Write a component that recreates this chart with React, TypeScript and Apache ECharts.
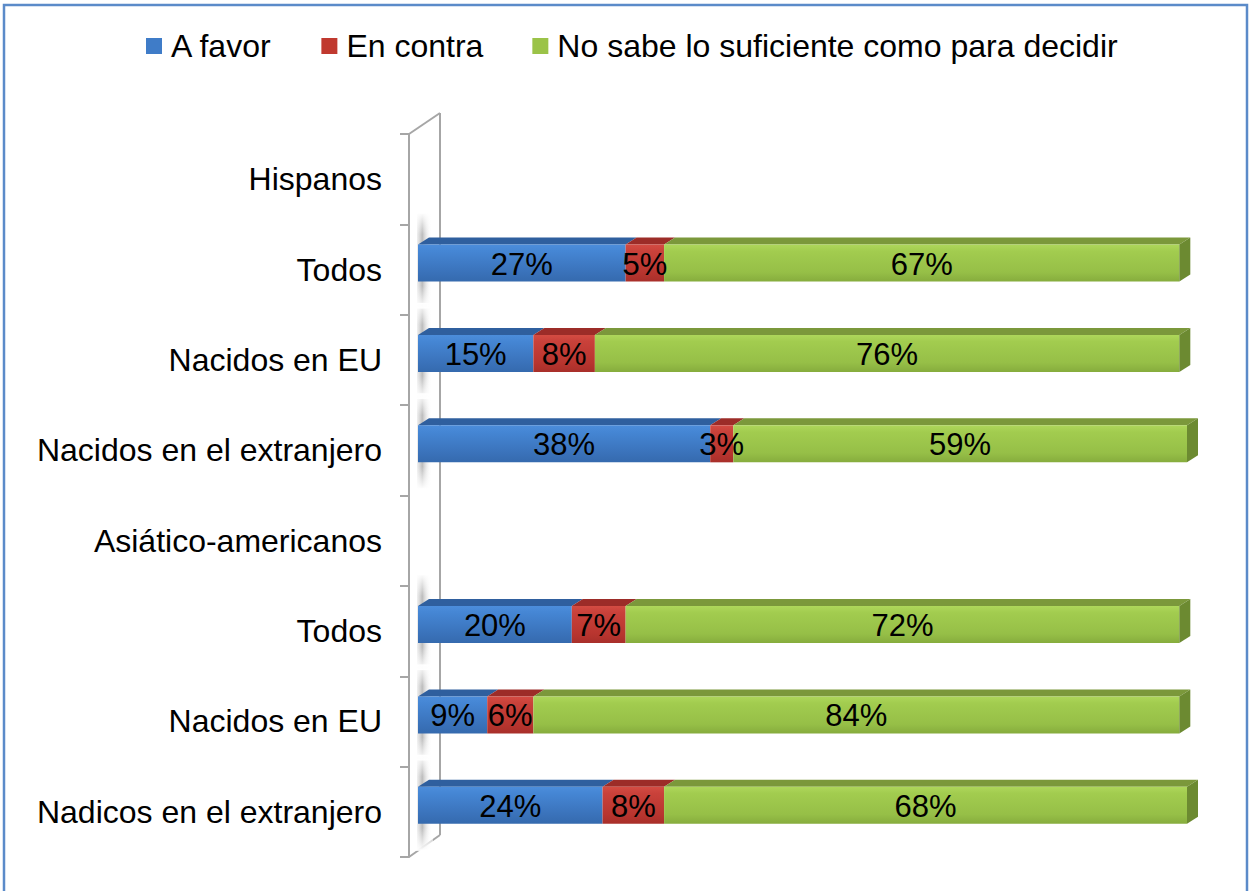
import React, { useEffect, useRef } from 'react';
import * as echarts from 'echarts';

const categories = [
  'Hispanos',
  'Todos',
  'Nacidos en EU',
  'Nacidos en el extranjero',
  'Asiático-americanos',
  'Todos',
  'Nacidos en EU',
  'Nadicos en el extranjero',
];
const seriesNames = ['A favor', 'En contra', 'No sabe lo suficiente como para decidir'];
const aFavor = [null, 27, 15, 38, null, 20, 9, 24];
const enContra = [null, 5, 8, 3, null, 7, 6, 8];
const noSabe = [null, 67, 76, 59, null, 72, 84, 68];

const FONT = 'Arial, "Liberation Sans", sans-serif';

const palettes = [
  { main: '#3F7CC8', stops: ['#4C8DDB', '#4586D4', '#3A72BA', '#356AAE'], topFace: '#2F5F9E', side: '#2A548C' },
  { main: '#C0392F', stops: ['#D44C43', '#C9413A', '#B8352F', '#A82F2A'], topFace: '#9C2C28', side: '#8A2622' },
  { main: '#9BC348', stops: ['#AED75B', '#A2CC4F', '#96BF47', '#86AC3D'], topFace: '#7B983B', side: '#6C8A31' },
];

function buildData(values: (number | null)[], offsets: (number | null)[][]) {
  const out: any[] = [];
  values.forEach((v, i) => {
    if (v == null) return;
    let start = 0;
    offsets.forEach((arr) => {
      start += (arr[i] as number) || 0;
    });
    out.push([i, start, start + v, v]);
  });
  return out;
}

function makeRender(si: number, isFirst: boolean, isLast: boolean) {
  const pal = palettes[si];
  return (params: any, api: any) => {
    const cat = api.value(0);
    const s = api.value(1);
    const e = api.value(2);
    const v = api.value(3);
    const p0 = api.coord([s, cat]);
    const p1 = api.coord([e, cat]);
    const band = api.size([0, 1])[1];
    const h = band * 0.41;
    const yc = p0[1] - band * 0.072;
    const top = yc - h / 2;
    const bottom = yc + h / 2;
    const dx = 11;
    const dy = 7;
    const x0 = p0[0];
    const x1 = p1[0];
    const children: any[] = [];
    if (isFirst) {
      children.push({
        type: 'rect',
        shape: { x: x0 - 1, y: top - dy - 24, width: 15, height: h + dy + 50 },
        style: {
          fill: new echarts.graphic.LinearGradient(0, 0, 1, 0, [
            { offset: 0, color: 'rgba(150,150,150,0.15)' },
            { offset: 0.35, color: 'rgba(120,120,120,0.5)' },
            { offset: 1, color: 'rgba(255,255,255,0)' },
          ]),
        },
        z2: -5,
      });
      children.push({
        type: 'rect',
        shape: { x: x0 - 2, y: top - dy - 25, width: 17, height: 22 },
        style: {
          fill: new echarts.graphic.LinearGradient(0, 0, 0, 1, [
            { offset: 0, color: 'rgba(255,255,255,1)' },
            { offset: 1, color: 'rgba(255,255,255,0)' },
          ]),
        },
        z2: -4,
      });
      children.push({
        type: 'rect',
        shape: { x: x0 - 2, y: bottom + 4, width: 17, height: 23 },
        style: {
          fill: new echarts.graphic.LinearGradient(0, 0, 0, 1, [
            { offset: 0, color: 'rgba(255,255,255,0)' },
            { offset: 1, color: 'rgba(255,255,255,1)' },
          ]),
        },
        z2: -4,
      });
    }
    children.push({
      type: 'polygon',
      shape: {
        points: [
          [x0, top],
          [x1, top],
          [x1 + dx, top - dy],
          [x0 + dx, top - dy],
        ],
      },
      style: { fill: pal.topFace },
      z2: 1,
    });
    children.push({
      type: 'rect',
      shape: { x: x0, y: top, width: x1 - x0, height: h },
      style: {
        fill: new echarts.graphic.LinearGradient(0, 0, 0, 1, [
          { offset: 0, color: pal.stops[0] },
          { offset: 0.18, color: pal.stops[1] },
          { offset: 0.75, color: pal.stops[2] },
          { offset: 1, color: pal.stops[3] },
        ]),
      },
      z2: 2,
    });
    if (isLast) {
      children.push({
        type: 'polygon',
        shape: {
          points: [
            [x1, top],
            [x1 + dx, top - dy],
            [x1 + dx, bottom - dy],
            [x1, bottom],
          ],
        },
        style: { fill: pal.side },
        z2: 2,
      });
    }
    children.push({
      type: 'text',
      style: {
        text: v + '%',
        x: (x0 + x1) / 2,
        y: yc + 1,
        align: 'center',
        verticalAlign: 'middle',
        font: '31px ' + FONT,
        fill: '#000',
      },
      z2: 100,
    });
    return { type: 'group', children };
  };
}

export default function App() {
  const ref = useRef<HTMLDivElement>(null);
  useEffect(() => {
    if (!ref.current) return;
    const chart = echarts.init(ref.current, undefined, { renderer: 'svg' });
    const dataFavor = buildData(aFavor, []);
    const dataContra = buildData(enContra, [aFavor]);
    const dataNoSabe = buildData(noSabe, [aFavor, enContra]);
    const allData = [dataFavor, dataContra, dataNoSabe];
    const wallColor = '#A6A6A6';
    const option: any = {
      animation: false,
      backgroundColor: '#fff',
      textStyle: { fontFamily: FONT },
      legend: {
        left: 146,
        top: 30,
        padding: 0,
        itemWidth: 16,
        itemHeight: 16,
        itemGap: 49,
        icon: 'rect',
        data: seriesNames,
        textStyle: { fontSize: 32, color: '#000', fontFamily: FONT, padding: [0, 0, 0, 4] },
      },
      grid: { left: 418, right: 66, top: 134, bottom: 34 },
      xAxis: { type: 'value', min: 0, max: 100, show: false },
      yAxis: {
        type: 'category',
        data: categories,
        inverse: true,
        offset: 9,
        axisLine: { show: true, onZero: false, lineStyle: { color: wallColor, width: 2 } },
        axisTick: { show: true, length: 9, lineStyle: { color: wallColor, width: 2 } },
        axisLabel: { margin: 27, fontSize: 32, color: '#000', fontFamily: FONT },
        splitLine: { show: false },
      },
      graphic: [
        {
          type: 'rect',
          shape: { x: 4, y: 5, width: 1243, height: 900 },
          style: { fill: 'none', stroke: '#5B8BC9', lineWidth: 2.5 },
          silent: true,
        },
        {
          type: 'line',
          shape: { x1: 440, y1: 113, x2: 440, y2: 835 },
          style: { stroke: wallColor, lineWidth: 2 },
          silent: true,
        },
        {
          type: 'line',
          shape: { x1: 409, y1: 134, x2: 440, y2: 113 },
          style: { stroke: wallColor, lineWidth: 2 },
          silent: true,
        },
        {
          type: 'line',
          shape: { x1: 409, y1: 857, x2: 440, y2: 835 },
          style: { stroke: wallColor, lineWidth: 2 },
          silent: true,
        },
      ],
      series: seriesNames.map((name, si) => ({
        type: 'custom',
        name,
        itemStyle: { color: palettes[si].main },
        renderItem: makeRender(si, si === 0, si === seriesNames.length - 1),
        encode: { x: [1, 2], y: 0 },
        data: allData[si],
      })),
    };
    chart.setOption(option);
    return () => chart.dispose();
  }, []);
  return (
    <div
      ref={ref}
      style={{ position: 'absolute', left: 0, top: 0, width: 1253, height: 891 }}
    />
  );
}
